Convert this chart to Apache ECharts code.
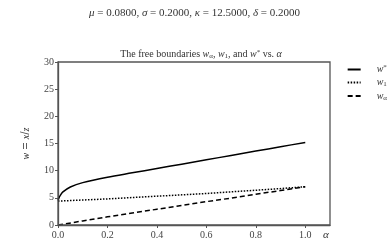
<!DOCTYPE html>
<html><head><meta charset="utf-8">
<script src="https://cdn.jsdelivr.net/npm/echarts@6/dist/echarts.min.js"></script>
<style>html,body{margin:0;padding:0;background:#fff}#c{width:389px;height:250px}</style>
</head><body><div id="c"></div>
<script>
var alphaStar = [0,0.005,0.01,0.02,0.05,0.1,0.2,0.3,0.4,0.5,0.6,0.7,0.8,0.9,1.0];
var wStar     = [4.5,5.1,5.5,6.1,7.0,7.8,8.8,9.6,10.4,11.2,12.0,12.8,13.6,14.4,15.2];
var alpha  = [0,0.1,0.2,0.3,0.4,0.5,0.6,0.7,0.8,0.9,1.0];
var w1     = [4.4,4.6,4.8,5.05,5.3,5.55,5.8,6.1,6.4,6.7,7.05];
var wAlpha = [0,0.75,1.5,2.2,2.9,3.6,4.3,4.95,5.65,6.35,7.05];
var yTicks = [0,5,10,15,20,25,30];
var xTicks = [0,0.2,0.4,0.6,0.8,1.0];

function pairs(xs, ys){ return xs.map(function(x,i){ return [x, ys[i]]; }); }
var F = 'Liberation Serif';
var rich = {
  i: {fontFamily:F, fontStyle:'italic', fontSize:10, color:'#333'},
  n: {fontFamily:F, fontSize:10, color:'#333'},
  sub: {fontFamily:F, fontSize:7, color:'#333', verticalAlign:'bottom', padding:[4,0,0,0]},
  sup: {fontFamily:F, fontSize:7, color:'#333', verticalAlign:'top', padding:[0,0,4,0]}
};
var legendText = {'w*':'{i|w}{sup|*}', 'w1':'{i|w}{sub|1}', 'wα':'{i|w}{sub|α}'};

var chart = echarts.init(document.getElementById('c'));
chart.setOption({
  animation:false,
  backgroundColor:'#fff',
  title:[
    {text:'{i|μ} = 0.0800, {i|σ} = 0.2000, {i|κ} = 12.5000, {i|δ} = 0.2000', left:'center', top:3,
     textStyle:{rich:{i:{fontFamily:F,fontStyle:'italic',fontSize:11,color:'#333'}}, fontFamily:F, fontSize:11, color:'#333', fontWeight:'normal'}},
    {text:'{n|The free boundaries }{i|w}{sub|α}{n|, }{i|w}{sub|1}{n|, and }{i|w}{sup|*}{n| vs. }{i|α}', left:196, textAlign:'center', top:44,
     textStyle:{rich:rich, fontFamily:F, fontSize:10, color:'#333', fontWeight:'normal'}}
  ],
  legend:{
    right:2, top:64, orient:'vertical', itemWidth:13, itemHeight:8, itemGap:3, padding:0,
    data:['w*','w1','wα'],
    formatter:function(n){ return legendText[n]; },
    itemStyle:{color:'rgba(0,0,0,0)', borderWidth:0},
    textStyle:{rich:rich, padding:[0,0,0,11]}
  },
  grid:{left:58, right:59, top:62, bottom:25},
  xAxis:{
    type:'value', min:0, max:1.1, interval:0.2,
    name:'α', nameLocation:'end', nameGap:-7,
    nameTextStyle:{fontFamily:F, fontStyle:'italic', fontSize:11, color:'#333', verticalAlign:'top', padding:[5,0,0,0]},
    axisLine:{show:true, lineStyle:{color:'#555', width:1.3}},
    axisTick:{show:true, length:3, lineStyle:{color:'#555'}, customValues:xTicks},
    axisLabel:{fontFamily:F, fontSize:10, color:'#444', margin:5, customValues:xTicks,
      formatter:function(v){ return v.toFixed(1); }},
    splitLine:{show:false}
  },
  yAxis:{
    type:'value', min:0, max:30, interval:5,
    name:'{i|w} = {i|x}/{i|z}', nameLocation:'middle', nameGap:26, nameRotate:90,
    nameTextStyle:{rich:rich},
    axisLine:{show:true, lineStyle:{color:'#555', width:1.3}},
    axisTick:{show:true, length:3, lineStyle:{color:'#555'}},
    axisLabel:{fontFamily:F, fontSize:10, color:'#444', margin:4},
    splitLine:{show:false}
  },
  graphic:[{type:'rect', shape:{x:58, y:62, width:272, height:163}, style:{fill:'none', stroke:'#555', lineWidth:1.3}, silent:true, z:10}],
  series:[
    {name:'w*', type:'line', data:pairs(alphaStar,wStar), symbol:'none', smooth:0.3,
     lineStyle:{color:'#000', width:1.5, type:'solid'}, itemStyle:{color:'#000'}},
    {name:'w1', type:'line', data:pairs(alpha,w1), symbol:'none',
     lineStyle:{color:'#000', width:1.5, type:[1.5,1.5]}, itemStyle:{color:'#000'}},
    {name:'wα', type:'line', data:pairs(alpha,wAlpha), symbol:'none',
     lineStyle:{color:'#000', width:1.5, type:[5,3]}, itemStyle:{color:'#000'}}
  ]
});
</script></body></html>
